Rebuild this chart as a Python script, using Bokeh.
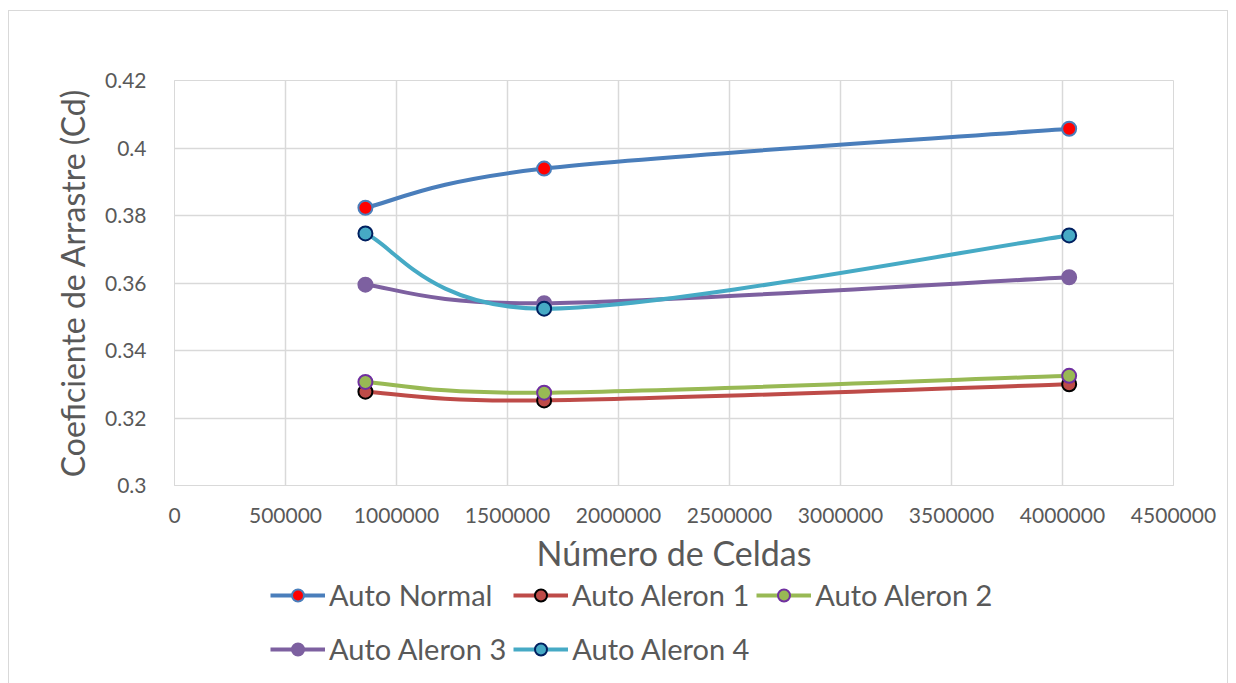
from bokeh.plotting import figure
from bokeh.layouts import column
from bokeh.models import Range1d, FixedTicker, Legend, LegendItem
from bokeh.embed import file_html
from bokeh.resources import INLINE

# ---- data ----
cells = [860000, 1665000, 4030000]
series_names = ["Auto Normal", "Auto Aleron 1", "Auto Aleron 2", "Auto Aleron 3", "Auto Aleron 4"]
auto_normal = [0.3823, 0.3939, 0.4057]
auto_aleron1 = [0.3278, 0.3252, 0.3300]
auto_aleron2 = [0.3307, 0.3275, 0.3325]
auto_aleron3 = [0.3595, 0.3540, 0.3617]
auto_aleron4 = [0.3747, 0.3524, 0.3741]

x_ticks = [0, 500000, 1000000, 1500000, 2000000, 2500000, 3000000, 3500000, 4000000, 4500000]
x_tick_labels = ["0", "500000", "1000000", "1500000", "2000000", "2500000", "3000000", "3500000", "4000000", "4500000"]
y_ticks = [0.3, 0.32, 0.34, 0.36, 0.38, 0.4, 0.42]
y_tick_labels = ["0.3", "0.32", "0.34", "0.36", "0.38", "0.4", "0.42"]

FONT = "Lato"
TXT = "#595959"
GRID = "#d9d9d9"

styles = [
    dict(line="#4a7ebb", fill="#ff0000", edge="#4a7ebb"),
    dict(line="#be4b48", fill="#be4b48", edge="#000000"),
    dict(line="#98b954", fill="#98b954", edge="#7030a0"),
    dict(line="#7d60a0", fill="#7d60a0", edge="#7d60a0"),
    dict(line="#46aac5", fill="#46aac5", edge="#002060"),
]

W = 1218
p = figure(width=W, height=564, output_backend="svg", toolbar_location=None,
           x_range=Range1d(0, 4500000), y_range=Range1d(0.3, 0.42),
           min_border_left=165, min_border_right=W - 165 - 999, min_border_top=69, min_border_bottom=90)
p.outline_line_color = GRID
p.background_fill_color = "white"
p.border_fill_color = "white"


def smooth_segments(xs, ys):
    # Catmull-Rom style (Excel-like) bezier control points from the data points
    n = len(xs)
    x0, y0, x1, y1, cx0, cy0, cx1, cy1 = [], [], [], [], [], [], [], []
    for i in range(n - 1):
        xa, ya = xs[max(i - 1, 0)], ys[max(i - 1, 0)]
        xb, yb = xs[i], ys[i]
        xc, yc = xs[i + 1], ys[i + 1]
        xd, yd = xs[min(i + 2, n - 1)], ys[min(i + 2, n - 1)]
        x0.append(xb); y0.append(yb); x1.append(xc); y1.append(yc)
        cx0.append(xb + (xc - xa) / 6.0); cy0.append(yb + (yc - ya) / 6.0)
        cx1.append(xc - (xd - xb) / 6.0); cy1.append(yc - (yd - yb) / 6.0)
    return dict(x0=x0, y0=y0, x1=x1, y1=y1, cx0=cx0, cy0=cy0, cx1=cx1, cy1=cy1)


all_series = [auto_normal, auto_aleron1, auto_aleron2, auto_aleron3, auto_aleron4]
for ys, st in zip(all_series, styles):
    seg = smooth_segments(cells, ys)
    p.bezier(x0=seg["x0"], y0=seg["y0"], x1=seg["x1"], y1=seg["y1"],
             cx0=seg["cx0"], cy0=seg["cy0"], cx1=seg["cx1"], cy1=seg["cy1"],
             line_color=st["line"], line_width=4)
    p.scatter(cells, ys, size=14, fill_color=st["fill"], line_color=st["edge"], line_width=2)

# axes
p.xaxis.ticker = FixedTicker(ticks=x_ticks)
p.yaxis.ticker = FixedTicker(ticks=y_ticks)
p.xaxis.major_label_overrides = {t: l for t, l in zip(x_ticks, x_tick_labels)}
p.yaxis.major_label_overrides = {t: l for t, l in zip(y_ticks, y_tick_labels)}
for ax in (p.xaxis, p.yaxis):
    ax.axis_line_color = GRID
    ax.major_tick_line_color = None
    ax.minor_tick_line_color = None
    ax.major_label_text_font = FONT
    ax.major_label_text_font_size = "21px"
    ax.major_label_text_color = TXT
    ax.axis_label_text_font = FONT
    ax.axis_label_text_font_style = "normal"
    ax.axis_label_text_color = TXT
p.xaxis.axis_label = "Número de Celdas"
p.yaxis.axis_label = "Coeficiente de Arrastre (Cd)"
p.xaxis.axis_label_text_font_size = "34px"
p.yaxis.axis_label_text_font_size = "32px"
p.xaxis.major_label_standoff = 16
p.yaxis.major_label_standoff = 22
p.xaxis.axis_label_standoff = 6
p.yaxis.axis_label_standoff = 10

p.xgrid.grid_line_color = GRID
p.ygrid.grid_line_color = GRID
p.xgrid.grid_line_width = 1.5
p.ygrid.grid_line_width = 1.5

# ---- legend strip: same series and styles, ranges chosen so only the legend shows ----
p2 = figure(width=W, height=108, output_backend="svg", toolbar_location=None,
            x_range=Range1d(-2, -1), y_range=Range1d(-2, -1),
            x_axis_type=None, y_axis_type=None, min_border=0)
p2.outline_line_color = None
p2.grid.visible = False
items = []
for name, ys, st in zip(series_names, all_series, styles):
    ln = p2.line(x=cells, y=ys, line_color=st["line"], line_width=4)
    mk = p2.scatter(x=cells, y=ys, size=14, fill_color=st["fill"], line_color=st["edge"], line_width=2)
    items.append(LegendItem(label=name, renderers=[ln, mk]))


def make_legend(its, loc):
    return Legend(items=its, location=loc, orientation="horizontal",
                  label_text_font=FONT, label_text_font_size="29px", label_text_color=TXT,
                  glyph_width=55, glyph_height=30, label_height=30, label_width=177,
                  label_standoff=4, spacing=7,
                  padding=0, margin=0, border_line_color=None, background_fill_alpha=0)


p2.add_layout(make_legend(items[:3], (96, 71)), "center")
p2.add_layout(make_legend(items[3:], (96, 17)), "center")

layout = column(p, p2, spacing=0)
layout.margin = (10, 0, 0, 8)
layout.styles = {"border": "1px solid #d9d9d9"}

open("out.html", "w").write(file_html(layout, INLINE))
